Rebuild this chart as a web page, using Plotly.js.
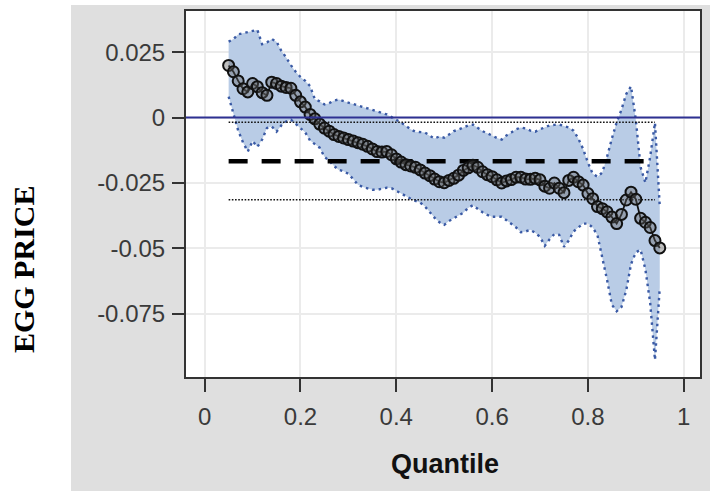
<!DOCTYPE html>
<html>
<head>
<meta charset="utf-8">
<script src="https://cdn.plot.ly/plotly-3.0.1.min.js"></script>
<style>
  html, body { margin: 0; padding: 0; background: #ffffff; }
  #bg { position: absolute; left: 71px; top: 5px; width: 639px; height: 486px; background: #dfdfdf; }
  #chart { position: absolute; left: 0; top: 0; width: 710px; height: 491px; }
</style>
</head>
<body>
<div id="bg"></div>
<div id="chart"></div>
<script>
// Quantile levels
const quantiles = [
  0.05,0.06,0.07,0.08,0.09,0.10,0.11,0.12,0.13,0.14,
  0.15,0.16,0.17,0.18,0.19,0.20,0.21,0.22,0.23,0.24,
  0.25,0.26,0.27,0.28,0.29,0.30,0.31,0.32,0.33,0.34,
  0.35,0.36,0.37,0.38,0.39,0.40,0.41,0.42,0.43,0.44,
  0.45,0.46,0.47,0.48,0.49,0.50,0.51,0.52,0.53,0.54,
  0.55,0.56,0.57,0.58,0.59,0.60,0.61,0.62,0.63,0.64,
  0.65,0.66,0.67,0.68,0.69,0.70,0.71,0.72,0.73,0.74,
  0.75,0.76,0.77,0.78,0.79,0.80,0.81,0.82,0.83,0.84,
  0.85,0.86,0.87,0.88,0.89,0.90,0.91,0.92,0.93,0.94,
  0.95
];
// Quantile regression estimate
const estimate = [
  0.0199,0.0175,0.0140,0.0110,0.0098,0.0130,0.0118,0.0095,0.0085,0.0135,
  0.0130,0.0120,0.0115,0.0112,0.0085,0.0060,0.0040,0.0012,-0.0005,-0.0025,
  -0.0040,-0.0052,-0.0065,-0.0072,-0.0078,-0.0084,-0.0090,-0.0096,-0.0102,-0.0110,
  -0.0120,-0.0130,-0.0132,-0.0130,-0.0142,-0.0158,-0.0170,-0.0180,-0.0185,-0.0190,
  -0.0200,-0.0212,-0.0222,-0.0235,-0.0245,-0.0249,-0.0240,-0.0232,-0.0220,-0.0202,
  -0.0192,-0.0182,-0.0190,-0.0207,-0.0218,-0.0226,-0.0238,-0.0250,-0.0242,-0.0237,
  -0.0228,-0.0228,-0.0235,-0.0236,-0.0232,-0.0238,-0.0262,-0.0270,-0.0250,-0.0270,
  -0.0287,-0.0240,-0.0228,-0.0245,-0.0258,-0.0290,-0.0310,-0.0340,-0.0348,-0.0360,
  -0.0380,-0.0405,-0.0370,-0.0315,-0.0285,-0.0312,-0.0385,-0.0400,-0.0420,-0.0470,
  -0.0498
];
// Upper confidence limit
const upper = [
  0.0290,0.0300,0.0318,0.0322,0.0325,0.0330,0.0335,0.0280,0.0287,0.0300,
  0.0290,0.0255,0.0230,0.0200,0.0175,0.0155,0.0140,0.0120,0.0070,0.0062,
  0.0050,0.0055,0.0065,0.0069,0.0062,0.0057,0.0052,0.0045,0.0040,0.0035,
  0.0030,0.0025,0.0018,0.0012,0.0002,-0.0008,-0.0019,-0.0032,-0.0045,-0.0054,
  -0.0056,-0.0057,-0.0070,-0.0080,-0.0072,-0.0077,-0.0065,-0.0052,-0.0046,-0.0038,
  -0.0030,-0.0027,-0.0040,-0.0052,-0.0060,-0.0070,-0.0078,-0.0084,-0.0068,-0.0057,
  -0.0045,-0.0038,-0.0042,-0.0050,-0.0054,-0.0045,-0.0036,-0.0030,-0.0028,-0.0027,
  -0.0032,-0.0038,-0.0050,-0.0080,-0.0120,-0.0172,-0.0215,-0.0226,-0.0210,-0.0150,
  -0.0080,-0.0019,0.0030,0.0090,0.0119,-0.0008,-0.0190,-0.0249,-0.0150,-0.0020,
  -0.0340
];
// Lower confidence limit
const lower = [
  0.0080,0.0019,-0.0050,-0.0095,-0.0130,-0.0090,-0.0112,-0.0084,-0.0040,-0.0034,
  -0.0054,-0.0030,-0.0015,-0.0008,-0.0025,-0.0040,-0.0057,-0.0088,-0.0100,-0.0115,
  -0.0150,-0.0165,-0.0185,-0.0200,-0.0205,-0.0215,-0.0235,-0.0257,-0.0265,-0.0272,
  -0.0276,-0.0276,-0.0272,-0.0268,-0.0270,-0.0280,-0.0290,-0.0302,-0.0310,-0.0318,
  -0.0325,-0.0340,-0.0362,-0.0383,-0.0400,-0.0410,-0.0395,-0.0383,-0.0374,-0.0364,
  -0.0345,-0.0335,-0.0350,-0.0362,-0.0372,-0.0379,-0.0379,-0.0379,-0.0392,-0.0405,
  -0.0420,-0.0438,-0.0435,-0.0429,-0.0440,-0.0456,-0.0490,-0.0465,-0.0445,-0.0448,
  -0.0494,-0.0470,-0.0435,-0.0420,-0.0405,-0.0405,-0.0420,-0.0450,-0.0532,-0.0620,
  -0.0715,-0.0740,-0.0724,-0.0660,-0.0560,-0.0515,-0.0505,-0.0580,-0.0708,-0.0926,
  -0.0650
];
// OLS estimate and its confidence limits, drawn over the quantile span
const olsSpan = [0.05, 0.94];
const olsEstimate = -0.0167;
const olsUpper = -0.0018;
const olsLower = -0.0314;
const zeroRef = 0;

// Axis ticks
const xTickVals = [0, 0.2, 0.4, 0.6, 0.8, 1];
const xTickText = ["0", "0.2", "0.4", "0.6", "0.8", "1"];
const yTickVals = [-0.075, -0.05, -0.025, 0, 0.025];
const yTickText = ["-0.075", "-0.05", "-0.025", "0", "0.025"];

const bandLine = { color: '#3a5aa5', width: 2.4, dash: '2.5px,4px' };
const tickFont = { family: 'Liberation Sans, Arial, sans-serif', size: 24, color: '#3a3a3a' };

const traces = [
  { x: quantiles, y: lower, type: 'scatter', mode: 'lines', line: bandLine, hoverinfo: 'skip', showlegend: false },
  { x: quantiles, y: upper, type: 'scatter', mode: 'lines', line: bandLine, fill: 'tonexty', fillcolor: '#b9cce6', hoverinfo: 'skip', showlegend: false },
  { x: olsSpan, y: olsSpan.map(() => olsUpper), type: 'scatter', mode: 'lines', line: { color: '#111', width: 1.6, dash: '1.6px,1.6px' }, showlegend: false },
  { x: olsSpan, y: olsSpan.map(() => olsLower), type: 'scatter', mode: 'lines', line: { color: '#111', width: 1.6, dash: '1.6px,1.6px' }, showlegend: false },
  { x: olsSpan, y: olsSpan.map(() => olsEstimate), type: 'scatter', mode: 'lines', line: { color: '#000', width: 4.5, dash: '19px,14px' }, showlegend: false },
  { x: quantiles, y: estimate, type: 'scatter', mode: 'lines+markers',
    line: { color: '#111', width: 1.8 },
    marker: { symbol: 'circle', size: 11, color: 'rgba(95,95,95,0.4)', line: { color: '#111', width: 2 } },
    showlegend: false }
];

const layout = {
  width: 710, height: 491,
  margin: { l: 186, r: 10, t: 11, b: 114 },
  paper_bgcolor: 'rgba(0,0,0,0)',
  plot_bgcolor: '#ffffff',
  showlegend: false,
  xaxis: {
    range: [-0.039, 1.034],
    tickvals: xTickVals, ticktext: xTickText,
    ticks: 'outside', ticklen: 13, tickwidth: 2, tickcolor: '#333',
    ticklabelstandoff: 4,
    tickfont: tickFont,
    showgrid: true, gridcolor: '#ebebeb', gridwidth: 2,
    zeroline: false,
    showline: true, linecolor: '#333', linewidth: 2, mirror: true
  },
  yaxis: {
    range: [-0.0991, 0.0407],
    tickvals: yTickVals, ticktext: yTickText,
    ticks: 'outside', ticklen: 12, tickwidth: 2, tickcolor: '#333',
    ticklabelstandoff: 2,
    tickfont: tickFont,
    showgrid: true, gridcolor: '#ebebeb', gridwidth: 2,
    zeroline: false,
    showline: true, linecolor: '#333', linewidth: 2, mirror: true
  },
  shapes: [
    { type: 'line', xref: 'paper', x0: 0, x1: 1, yref: 'y', y0: zeroRef, y1: zeroRef,
      line: { color: '#2e3192', width: 2 }, layer: 'above' }
  ],
  annotations: [
    { text: 'Quantile', xref: 'paper', yref: 'paper', x: 0.503, y: -0.238,
      xanchor: 'center', yanchor: 'middle', showarrow: false,
      font: { family: 'Liberation Sans, Arial, sans-serif', size: 27, color: '#111', weight: 'bold' } },
    { text: 'EGG PRICE', xref: 'paper', yref: 'paper', x: -0.317, y: 0.295,
      xanchor: 'center', yanchor: 'middle', textangle: -90, showarrow: false,
      font: { family: 'Liberation Serif, Times New Roman, serif', size: 30, color: '#000', weight: 'bold' } }
  ]
};

Plotly.newPlot('chart', traces, layout, { displayModeBar: false, staticPlot: true });
</script>
</body>
</html>
